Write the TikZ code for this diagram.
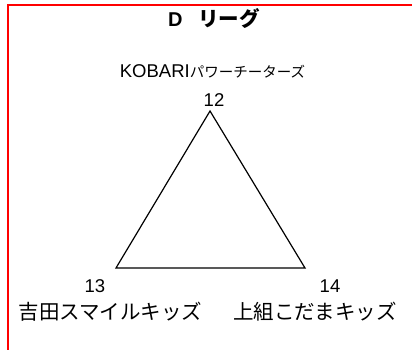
\documentclass[tikz,border=0pt]{standalone}
\usepackage{fontspec}
\setmainfont{Liberation Sans}
\newfontfamily\jp{Noto Sans CJK JP}
\begin{document}
\begin{tikzpicture}[x=1pt,y=-1pt,
  lbl/.style={inner sep=0pt,anchor=base,text=black},
  frameline/.style={draw=red,line width=2pt},
  edge/.style={draw=black,line width=1.2pt,line join=miter}]
\useasboundingbox (0,0) rectangle (412,350);
\fill[white] (0,0) rectangle (412,350);
% red frame
\coordinate (ftl) at (8,5);
\coordinate (ftr) at (412,5);
\coordinate (fbl) at (8,350);
\draw[frameline] (ftr) -- (ftl) -- (fbl);
% title
\node[lbl,font=\bfseries\fontsize{20}{22}\selectfont] (title) at (214,27) {D\hspace{16pt}{\jp\fontsize{20.5}{22}\selectfont リーグ}};
% triangle
\coordinate (a) at (210,111);
\coordinate (b) at (116,268);
\coordinate (c) at (305,268);
\draw[edge] (a) -- (b) -- (c) -- cycle;
% labels
\node[lbl,font=\fontsize{18.5}{20}\selectfont] (t1) at (212.5,78) {KOBARI{\jp\fontsize{14.5}{16}\selectfont パワーチーターズ}};
\node[lbl,font=\fontsize{18.5}{20}\selectfont] (n12) at (214,107) {12};
\node[lbl,font=\fontsize{18.5}{20}\selectfont] (n13) at (95,292) {13};
\node[lbl,font=\fontsize{18.5}{20}\selectfont] (n14) at (330,292) {14};
\node[lbl,font=\jp\fontsize{20.5}{22}\selectfont] (t2) at (110.5,319.5) {吉田スマイルキッズ};
\node[lbl,font=\jp\fontsize{20.5}{22}\selectfont] (t3) at (315,319.5) {上組こだまキッズ};
\end{tikzpicture}
\end{document}
